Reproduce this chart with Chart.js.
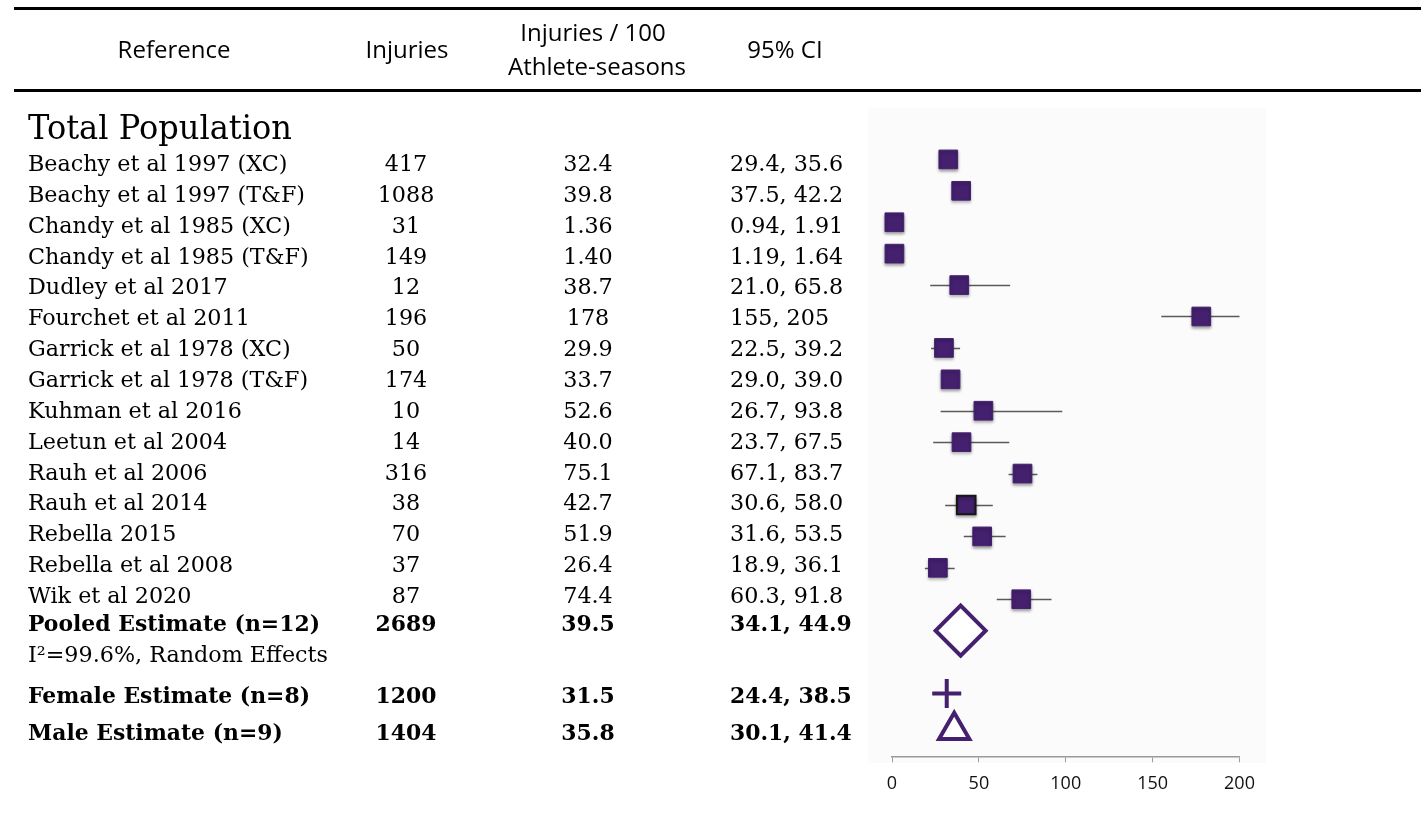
<!DOCTYPE html>
<html lang="en">
<head>
<meta charset="UTF-8">
<title>Injuries per 100 Athlete-seasons</title>
<script src="https://cdn.jsdelivr.net/npm/chart.js"></script>
<style>
  html, body { margin: 0; padding: 0; background: white; }
  #wrap { position: relative; width: 1421px; height: 825px; }
</style>
</head>
<body>
<div id="wrap"><canvas id="forest" width="1421" height="825"></canvas></div>
<script>
  const studies = ['Beachy et al 1997 (XC)', 'Beachy et al 1997 (T&F)', 'Chandy et al 1985 (XC)',
    'Chandy et al 1985 (T&F)', 'Dudley et al 2017', 'Fourchet et al 2011', 'Garrick et al 1978 (XC)',
    'Garrick et al 1978 (T&F)', 'Kuhman et al 2016', 'Leetun et al 2004', 'Rauh et al 2006',
    'Rauh et al 2014', 'Rebella 2015', 'Rebella et al 2008', 'Wik et al 2020'];
  const injuries = [417, 1088, 31, 149, 12, 196, 50, 174, 10, 14, 316, 38, 70, 37, 87];
  const rates = [32.4, 39.8, 1.36, 1.40, 38.7, 178, 29.9, 33.7, 52.6, 40.0, 75.1, 42.7, 51.9, 26.4, 74.4];
  const ciLabels = ['29.4, 35.6', '37.5, 42.2', '0.94, 1.91', '1.19, 1.64', '21.0, 65.8', '155, 205',
    '22.5, 39.2', '29.0, 39.0', '26.7, 93.8', '23.7, 67.5', '67.1, 83.7', '30.6, 58.0', '31.6, 53.5',
    '18.9, 36.1', '60.3, 91.8'];
  // whisker ends as drawn in the plot
  const ciLow = [29.4, 37.5, 0.94, 1.19, 22.0, 155, 22.5, 29.0, 28.0, 23.7, 67.1, 30.6, 41.3, 18.9, 60.3];
  const ciHigh = [35.6, 42.2, 1.91, 1.64, 68.0, 205, 39.2, 39.0, 98.0, 67.5, 83.7, 58.0, 65.4, 36.1, 91.8];

  const summaryLabels = ['Pooled Estimate (n=12)', 'Female Estimate (n=8)', 'Male Estimate (n=9)'];
  const summaryInjuries = [2689, 1200, 1404];
  const summaryRates = [39.5, 31.5, 35.8];
  const summaryCI = ['34.1, 44.9', '24.4, 38.5', '30.1, 41.4'];
  const heterogeneity = 'I²=99.6%, Random Effects';

  const xTicks = [0, 50, 100, 150, 200];

  const purple = '#44206f';
  const SERIF = '"DejaVu Serif", serif';
  const SANS = '"Open Sans", sans-serif';

  const n = studies.length;
  // marker rows on the plot (summary rows leave a gap for the I2 note)
  const summaryRows = [n, n + 2, n + 3.17];
  // the table text is laid out on its own, slightly tighter grid
  const textTop = 171, textStep = 30.86;
  const summaryTextRows = [n - 0.1, n + 2.25, n + 3.45];
  const noteTextRow = n + 0.9;

  function fmt(v) {
    return v < 10 ? v.toFixed(2) : v < 100 ? v.toFixed(1) : v.toFixed(0);
  }

  // squeeze DejaVu horizontally so it sits closer to the narrower original face
  function squeeze(ctx, font, sample, width) {
    ctx.font = font;
    return width / ctx.measureText(sample).width;
  }

  function text(ctx, s, x, y, align, sx) {
    ctx.save();
    ctx.translate(x, y);
    ctx.scale(sx, 1);
    ctx.textAlign = align;
    ctx.fillText(s, 0, 0);
    ctx.restore();
  }

  const colRef = 28, colInj = 406, colRate = 588, colCI = 730;

  const tablePlugin = {
    id: 'table',
    beforeDraw(chart) {
      const ctx = chart.ctx;
      ctx.save();
      ctx.fillStyle = '#fbfbfb';
      ctx.fillRect(868, 108, 398, 655);

      ctx.fillStyle = '#000';
      ctx.fillRect(14, 7, 1407, 3);
      ctx.fillRect(14, 89, 1407, 3);

      // header
      ctx.font = '400 24px ' + SANS;
      ctx.textBaseline = 'middle';
      ctx.textAlign = 'center';
      ctx.fillText('Reference', 174, 51);
      ctx.fillText('Injuries', 407, 51);
      ctx.fillText('Injuries / 100', 593, 34);
      ctx.fillText('Athlete-seasons', 597, 68);
      ctx.fillText('95% CI', 785, 51);

      ctx.textBaseline = 'alphabetic';
      const titleFont = '400 33px ' + SERIF;
      const tsx = squeeze(ctx, titleFont, 'Total Population', 264);
      text(ctx, 'Total Population', colRef, 139, 'left', tsx);

      const regFont = '400 22px ' + SERIF;
      const boldFont = '700 23px ' + SERIF;
      const rsx = squeeze(ctx, regFont, 'Beachy et al 1997 (T&F)', 277);
      const bsx = squeeze(ctx, boldFont, 'Pooled Estimate (n=12)', 292);
      const ty = r => textTop + textStep * r;

      function row(r, label, inj, rate, ci, sx) {
        const py = ty(r);
        text(ctx, label, colRef, py, 'left', sx);
        text(ctx, String(inj), colInj, py, 'center', sx);
        text(ctx, fmt(rate), colRate, py, 'center', sx);
        text(ctx, ci, colCI, py, 'left', sx);
      }

      ctx.font = regFont;
      studies.forEach((s, i) => row(i, s, injuries[i], rates[i], ciLabels[i], rsx));
      text(ctx, heterogeneity, colRef, ty(noteTextRow), 'left', rsx);

      ctx.font = boldFont;
      summaryLabels.forEach((s, i) => row(summaryTextRows[i], s,
        summaryInjuries[i], summaryRates[i], summaryCI[i], bsx));
      ctx.restore();
    }
  };

  const whiskerPlugin = {
    id: 'whiskers',
    beforeDatasetsDraw(chart) {
      const {ctx, chartArea: a, scales: {x, y}} = chart;
      ctx.save();
      ctx.beginPath();
      ctx.rect(a.left, 0, a.right - a.left, chart.height);
      ctx.clip();
      ctx.strokeStyle = '#5a5a5a';
      ctx.lineWidth = 1.5;
      ciLow.forEach((lo, i) => {
        const py = Math.round(y.getPixelForValue(i)) + 0.5;
        ctx.beginPath();
        ctx.moveTo(x.getPixelForValue(lo), py);
        ctx.lineTo(x.getPixelForValue(ciHigh[i]), py);
        ctx.stroke();
      });
      ctx.restore();
    },
    beforeDatasetDraw(chart, args) {
      if (args.index !== 0) return;
      const ctx = chart.ctx;
      ctx.save();
      ctx.shadowColor = 'rgba(0,0,0,0.35)';
      ctx.shadowBlur = 3;
      ctx.shadowOffsetY = 2;
    },
    afterDatasetDraw(chart, args) {
      if (args.index === 0) chart.ctx.restore();
    }
  };

  new Chart(document.getElementById('forest'), {
    type: 'scatter',
    data: {
      datasets: [{
        data: rates.map((v, i) => ({x: v, y: i})),
        pointStyle: 'rect',
        pointRadius: 13.2,
        backgroundColor: purple,
        borderColor: ctx => ctx.dataIndex === 11 ? '#161616' : purple,
        borderWidth: ctx => ctx.dataIndex === 11 ? 2 : 1,
        clip: false
      }, {
        data: [{x: summaryRates[0], y: summaryRows[0]}],
        pointStyle: 'rectRot',
        pointRadius: 25,
        backgroundColor: '#fff',
        borderColor: purple,
        borderWidth: 4,
        clip: false
      }, {
        data: [{x: summaryRates[1], y: summaryRows[1]}],
        pointStyle: 'cross',
        pointRadius: 14.5,
        borderColor: purple,
        borderWidth: 4,
        clip: false
      }, {
        data: [{x: summaryRates[2], y: summaryRows[2]}],
        pointStyle: 'triangle',
        pointRadius: 17.5,
        backgroundColor: '#fff',
        borderColor: purple,
        borderWidth: 4,
        clip: false
      }]
    },
    options: {
      responsive: false,
      animation: false,
      layout: { padding: { left: 892, right: 181.5, top: 128, bottom: 20.5 } },
      plugins: { legend: { display: false }, tooltip: { enabled: false } },
      scales: {
        x: {
          type: 'linear',
          min: 0,
          max: 200,
          afterBuildTicks: axis => { axis.ticks = xTicks.map(v => ({value: v})); },
          grid: { drawOnChartArea: false, drawTicks: true, tickLength: 6, color: '#9a9a9a' },
          border: { color: '#9a9a9a', width: 1.5 },
          ticks: { color: '#111', padding: 10.3, font: { family: SANS, size: 18 } }
        },
        y: {
          type: 'linear',
          display: false,
          reverse: true,
          min: -1,
          max: 19
        }
      }
    },
    plugins: [tablePlugin, whiskerPlugin]
  });
</script>
</body>
</html>
